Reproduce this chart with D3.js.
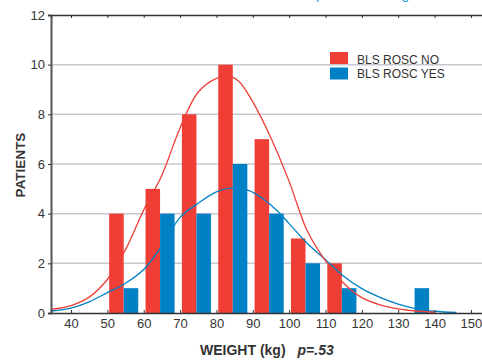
<!DOCTYPE html>
<html>
<head>
<meta charset="utf-8">
<script src="https://cdn.jsdelivr.net/npm/d3@7"></script>
<style>
  body { margin: 0; background: #fff; }
  svg { display: block; font-family: "Liberation Sans", Arial, sans-serif; }
</style>
</head>
<body>
<div id="chart"></div>
<script>
// bins of 10 kg, starting weight of each bin
const bins = [50, 60, 70, 80, 90, 100, 110, 120, 130];
const roscNo = [4, 5, 8, 10, 7, 3, 2, 0, 0];
const roscYes = [1, 4, 4, 6, 4, 2, 1, 0, 1];

// fitted normal curves (kg, patients)
const curveNoKg = [34.5, 40, 45, 50, 55, 60, 65, 70, 75, 80, 83, 86, 90, 95, 100, 105, 110, 115, 120, 125, 130, 135, 140];
const curveNoVal = [0.15, 0.3, 0.64, 1.35, 2.55, 4.15, 5.55, 7.45, 8.9, 9.45, 9.55, 9.35, 8.5, 7.05, 5.3, 3.3, 2.1, 1.2, 0.62, 0.33, 0.17, 0.08, 0.03];
const curveYesKg = [34.5, 40, 45, 50, 55, 60, 65, 70, 75, 80, 84, 89, 93, 97, 100, 105, 110, 115, 120, 125, 130, 135, 140, 146];
const curveYesVal = [0.08, 0.2, 0.45, 0.82, 1.2, 1.75, 2.7, 3.85, 4.42, 4.88, 5.03, 4.93, 4.58, 4.08, 3.6, 2.8, 2.15, 1.48, 0.98, 0.63, 0.36, 0.17, 0.07, 0.02];

const xTicks = [40, 50, 60, 70, 80, 90, 100, 110, 120, 130, 140, 150];
const yTicks = [0, 2, 4, 6, 8, 10, 12];

const red = '#ee3e36';
const blue = '#0081c6';
const ink = '#333';

const W = 482, H = 360;
const plotLeft = 51, plotTop = 15, plotBottom = 313, plotRight = 490;

const svg = d3.select('#chart').append('svg')
  .attr('width', W)
  .attr('height', H);

// 40 kg sits at 70.5px, 3.64px per kg
const x = d3.scaleLinear()
  .domain([34.5, 40 + (plotRight - 70.5) / 3.64])
  .range([plotLeft, plotRight]);
const y = d3.scaleLinear().domain([0, 12]).range([plotBottom, plotTop]);

// gridlines
svg.append('g')
  .selectAll('line')
  .data(yTicks.filter(d => d > 0 && d < 12))
  .join('line')
  .attr('x1', plotLeft).attr('x2', W)
  .attr('y1', d => y(d)).attr('y2', d => y(d))
  .attr('stroke', '#c6c8d0')
  .attr('stroke-width', 1.5);

// bars
const barW = 4;
svg.append('g')
  .selectAll('rect')
  .data(bins.map((b, i) => ({ b, v: roscNo[i] })).filter(d => d.v > 0))
  .join('rect')
  .attr('x', d => x(d.b + 0.5))
  .attr('width', d => x(d.b + 0.5 + barW) - x(d.b + 0.5))
  .attr('y', d => y(d.v))
  .attr('height', d => y(0) - y(d.v))
  .attr('fill', red);

svg.append('g')
  .selectAll('rect')
  .data(bins.map((b, i) => ({ b, v: roscYes[i] })).filter(d => d.v > 0))
  .join('rect')
  .attr('x', d => x(d.b + 4.5))
  .attr('width', d => x(d.b + 4.5 + barW) - x(d.b + 4.5))
  .attr('y', d => y(d.v))
  .attr('height', d => y(0) - y(d.v))
  .attr('fill', blue);

// curves
const line = d3.line()
  .x(d => x(d[0]))
  .y(d => y(d[1]))
  .curve(d3.curveCatmullRom);

svg.append('path')
  .datum(curveYesKg.map((k, i) => [k, curveYesVal[i]]))
  .attr('d', line)
  .attr('fill', 'none')
  .attr('stroke', blue)
  .attr('stroke-width', 1.3);

svg.append('path')
  .datum(curveNoKg.map((k, i) => [k, curveNoVal[i]]))
  .attr('d', line)
  .attr('fill', 'none')
  .attr('stroke', red)
  .attr('stroke-width', 1.3);

// bottom axis
const xAxis = svg.append('g')
  .attr('transform', `translate(0,${plotBottom})`)
  .call(d3.axisBottom(x).tickValues(xTicks).tickSize(-3).tickPadding(6));
xAxis.select('.domain').attr('stroke', ink).attr('stroke-width', 1.5);
xAxis.selectAll('.tick line').attr('stroke', ink);
xAxis.selectAll('.tick text')
  .attr('fill', ink)
  .style('font-size', '13px')
  .style('font-family', '"Liberation Sans", Arial, sans-serif');

// top border with ticks
const topAxis = svg.append('g')
  .attr('transform', `translate(0,${plotTop})`)
  .call(d3.axisTop(x).tickValues(xTicks).tickSize(-3).tickFormat(''));
topAxis.select('.domain').attr('stroke', ink).attr('stroke-width', 1.5);
topAxis.selectAll('.tick line').attr('stroke', ink);

// left axis
const yAxis = svg.append('g')
  .attr('transform', `translate(${plotLeft},0)`)
  .call(d3.axisLeft(y).tickValues(yTicks).tickSize(3).tickPadding(3));
yAxis.select('.domain').attr('stroke', '#555').attr('stroke-width', 2);
yAxis.selectAll('.tick line').attr('stroke', ink);
yAxis.selectAll('.tick text')
  .attr('fill', ink)
  .style('font-size', '13px')
  .style('font-family', '"Liberation Sans", Arial, sans-serif');

// axis titles
const xt = svg.append('text')
  .attr('x', 200)
  .attr('y', 355)
  .attr('fill', ink)
  .style('font-size', '14px')
  .style('font-weight', 'bold');
xt.append('tspan').text('WEIGHT (kg)');
xt.append('tspan').attr('dx', 12).style('font-style', 'italic').text('p=.53');

svg.append('text')
  .attr('transform', 'translate(25,165) rotate(-90)')
  .attr('text-anchor', 'middle')
  .attr('fill', ink)
  .style('font-size', '13.5px')
  .style('font-weight', 'bold')
  .text('PATIENTS');

// clipped title above the chart
svg.append('text')
  .attr('x', 316)
  .attr('y', -1)
  .attr('fill', '#1a9be0')
  .style('font-size', '14px')
  .text('pulse and weig');

// legend
const legend = svg.append('g');
const legendItems = [{ label: 'BLS ROSC NO', color: red }, { label: 'BLS ROSC YES', color: blue }];
legend.selectAll('rect')
  .data(legendItems)
  .join('rect')
  .attr('x', 330)
  .attr('y', (d, i) => 52 + i * 15.5)
  .attr('width', 18)
  .attr('height', 12)
  .attr('fill', d => d.color);
legend.selectAll('text')
  .data(legendItems)
  .join('text')
  .attr('x', 357)
  .attr('y', (d, i) => 63.5 + i * 14.5)
  .attr('fill', ink)
  .style('font-size', '12px')
  .text(d => d.label);
</script>
</body>
</html>
